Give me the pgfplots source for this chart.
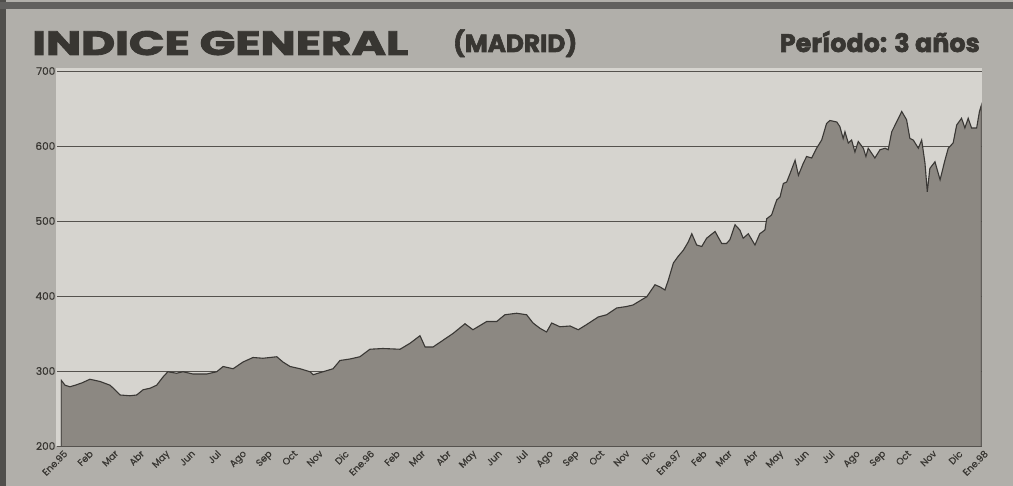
\documentclass[border=0pt]{standalone}
\usepackage{pgfplots}
\pgfplotsset{compat=1.18}
\usepackage{graphicx}
\usepackage{fontspec}
\setmainfont{Poppins}
\newfontfamily\heavyfont{Poppins}[BoldFeatures={FakeBold=2.5}]
\newfontfamily\medfont{Poppins}[UprightFeatures={FakeBold=0.6}]
\definecolor{outer}{HTML}{B1AFAA}
\definecolor{plotbg}{HTML}{D6D4CF}
\definecolor{areafill}{HTML}{8C8882}
\definecolor{linec}{HTML}{3A3835}
\definecolor{gridc}{HTML}{55524E}
\definecolor{titlec}{HTML}{383632}
\begin{document}
\begin{tikzpicture}[x=1pt,y=1pt]
\useasboundingbox (0,0) rectangle (1013,486);
\fill[outer] (0,0) rectangle (1013,486);
\fill[black!55!outer] (0,0) rectangle (6,486);
\fill[black!45!outer] (0,477) rectangle (1013,484);
\fill[plotbg] (56,40) rectangle (982,418);
\node[anchor=base west, inner sep=0, text=titlec] at (32,431) {\resizebox{376pt}{24pt}{\heavyfont\bfseries INDICE GENERAL}};
\node[anchor=base west, inner sep=0, text=titlec] at (453,434) {\resizebox{124pt}{!}{\heavyfont\bfseries (MADRID)}};
\node[anchor=base east, inner sep=0, text=titlec] at (980,434) {\resizebox{200pt}{!}{\heavyfont\bfseries Período: 3 años}};
\begin{axis}[
  at={(61pt,40pt)}, anchor=south west,
  scale only axis, width=920.5pt, height=375pt,
  xmin=0, xmax=36, ymin=200, ymax=700,
  axis x line*=bottom, axis y line*=left,
  axis line style={draw=none},
  ytick={200,300,400,500,600,700},
  ymajorgrids, grid style={draw=gridc, line width=0.9pt},
  major tick length=4pt, tick align=outside,
  ytick style={draw=gridc, line width=0.9pt},
  xtick style={draw=none},
  /pgf/number format/assume math mode=true,
  yticklabel style={font=\medfont\fontsize{10.5}{11}\selectfont, text=titlec, inner sep=1.5pt},
  xtick={0,1,...,36},
  xticklabels={Ene.95,Feb,Mar,Abr,May,Jun,Jul,Ago,Sep,Oct,Nov,Dic,Ene.96,Feb,Mar,Abr,May,Jun,Jul,Ago,Sep,Oct,Nov,Dic,Ene.97,Feb,Mar,Abr,May,Jun,Jul,Ago,Sep,Oct,Nov,Dic,Ene.98},
  xticklabel style={rotate=45, anchor=north east, font=\medfont\fontsize{9.5}{10}\selectfont, text=titlec, inner sep=1pt, xshift=3pt},
]
\addplot[fill=areafill, draw=linec, line width=1.1pt] coordinates {
(0,200) (0,288) (0.16,281) (0.35,279) (0.55,281) (0.81,284) (1.13,289) (1.53,286)
(1.92,281) (2.11,275) (2.31,268) (2.70,267) (2.96,268) (3.21,275) (3.48,277)
(3.74,281) (3.99,292) (4.18,299) (4.52,297) (4.77,299) (5.16,296) (5.70,296)
(6.09,299) (6.34,306) (6.73,303) (7.12,312) (7.51,318) (7.90,317) (8.44,319)
(8.68,312) (8.96,306) (9.35,303) (9.74,299) (9.86,295) (10.25,299) (10.64,303)
(10.91,314) (11.30,316) (11.69,319) (12.08,329) (12.59,330) (13.26,329) (13.65,337)
(14.04,347) (14.24,332) (14.55,332) (14.94,341) (15.33,350) (15.80,363) (16.11,355)
(16.65,366) (17.04,366) (17.36,375) (17.82,377) (18.21,375) (18.46,364) (18.73,357)
(18.99,352) (19.19,364) (19.51,359) (19.91,360) (20.23,355) (20.56,362) (21.01,372)
(21.34,375) (21.73,384) (22.12,386) (22.37,388) (22.71,395) (22.91,399) (23.23,415)
(23.43,412) (23.62,408) (23.75,421) (23.95,444) (24.14,453) (24.34,461) (24.53,472)
(24.67,483) (24.86,468) (25.06,466) (25.25,477) (25.58,486) (25.84,470) (26.03,470)
(26.16,475) (26.36,495) (26.55,488) (26.68,477) (26.88,483) (27.14,468) (27.33,483)
(27.53,488) (27.60,503) (27.79,508) (27.99,528) (28.12,532) (28.25,550) (28.38,552)
(28.51,563) (28.71,581) (28.84,561) (29.03,577) (29.16,586) (29.36,584) (29.55,597)
(29.75,608) (29.94,630) (30.07,634) (30.34,632) (30.46,626) (30.59,610) (30.66,619)
(30.79,604) (30.92,608) (31.05,592) (31.18,606) (31.38,597) (31.48,586) (31.57,597)
(31.83,584) (32.03,595) (32.23,597) (32.35,595) (32.49,619) (32.68,632) (32.88,646)
(33.07,635) (33.20,610) (33.33,608) (33.53,597) (33.66,608) (33.79,577) (33.88,539)
(33.98,570) (34.18,579) (34.38,555) (34.57,581) (34.70,597) (34.89,604) (35.03,628)
(35.22,637) (35.35,624) (35.48,637) (35.61,624) (35.81,624) (35.92,646) (36,655)
(36,200)
};
\end{axis}
\end{tikzpicture}
\end{document}
